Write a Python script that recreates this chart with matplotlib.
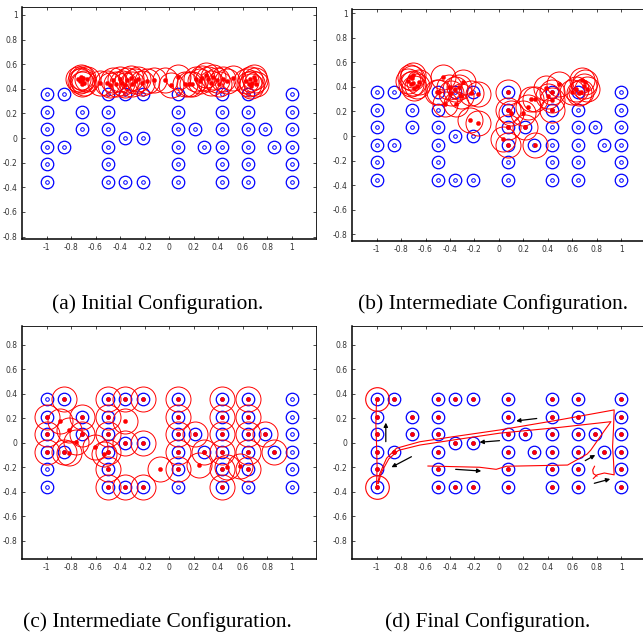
import numpy as np
import matplotlib.pyplot as plt

# target positions (blue rings), row by row
target_x = [-1, -0.857, -0.5, -0.357, -0.214, 0.071, 0.429, 0.643, 1,
            -1, -0.714, -0.5, 0.071, 0.429, 0.643, 1,
            -1, -0.714, -0.5, 0.071, 0.214, 0.429, 0.643, 0.786, 1,
            -0.357, -0.214,
            -1, -0.857, -0.5, 0.071, 0.286, 0.429, 0.643, 0.857, 1,
            -1, -0.5, 0.071, 0.429, 0.643, 1,
            -1, -0.5, -0.357, -0.214, 0.071, 0.429, 0.643, 1]
target_y = [0.357, 0.357, 0.357, 0.357, 0.357, 0.357, 0.357, 0.357, 0.357,
            0.214, 0.214, 0.214, 0.214, 0.214, 0.214, 0.214,
            0.071, 0.071, 0.071, 0.071, 0.071, 0.071, 0.071, 0.071, 0.071,
            0, 0,
            -0.071, -0.071, -0.071, -0.071, -0.071, -0.071, -0.071, -0.071, -0.071,
            -0.214, -0.214, -0.214, -0.214, -0.214, -0.214,
            -0.357, -0.357, -0.357, -0.357, -0.357, -0.357, -0.357, -0.357]

# (a) initial robot positions
robots_a_x = [-0.72, -0.71, -0.74, -0.67, -0.71, -0.69, -0.73, -0.70,
              -0.56, -0.51, -0.48, -0.46, -0.43, -0.40, -0.38, -0.36,
              -0.34, -0.31, -0.30, -0.28, -0.25, -0.22, -0.18, -0.12,
              -0.03, 0.02, 0.07, 0.13, 0.16,
              0.19, 0.22, 0.25, 0.27, 0.30, 0.32, 0.34, 0.36, 0.39, 0.41, 0.44, 0.47, 0.52,
              0.63, 0.65, 0.66, 0.68, 0.69, 0.70, 0.67, 0.71]
robots_a_y = [0.50, 0.47, 0.48, 0.48, 0.44, 0.45, 0.46, 0.49,
              0.45, 0.45, 0.43, 0.47, 0.44, 0.48, 0.45, 0.43,
              0.47, 0.49, 0.44, 0.46, 0.48, 0.45, 0.46, 0.47,
              0.47, 0.43, 0.50, 0.44, 0.44,
              0.44, 0.48, 0.46, 0.49, 0.51, 0.48, 0.45, 0.50, 0.47, 0.44, 0.48, 0.46, 0.49,
              0.46, 0.44, 0.48, 0.45, 0.50, 0.47, 0.42, 0.44]

# (b) intermediate robot positions
robots_b_x = [-0.73, -0.71, -0.70, -0.72, -0.69, -0.65, -0.74, -0.70, -0.67,
              -0.46, -0.51, -0.49, -0.44, -0.39, -0.36, -0.35, -0.33, -0.29,
              -0.23, -0.17, -0.24, -0.17, -0.41, -0.31,
              0.07, 0.07, 0.10, 0.07, 0.03, 0.07, 0.21, 0.29,
              0.20, 0.26, 0.29, 0.24, 0.38, 0.43, 0.43, 0.43, 0.49, 0.40,
              0.63, 0.65, 0.68, 0.70, 0.72, 0.67, 0.60, 0.69]
robots_b_y = [0.48, 0.47, 0.43, 0.42, 0.39, 0.44, 0.45, 0.50, 0.41,
              0.48, 0.36, 0.36, 0.26, 0.35, 0.38, 0.26, 0.40, 0.44,
              0.35, 0.34, 0.13, 0.11, 0.40, 0.33,
              0.36, 0.21, 0.19, 0.07, -0.02, -0.07, 0.07, -0.07,
              0.19, 0.30, 0.30, 0.24, 0.39, 0.36, 0.29, 0.21, 0.42, 0.33,
              0.38, 0.35, 0.46, 0.44, 0.38, 0.36, 0.36, 0.41]

# (c) intermediate robot positions
robots_c_x = [-0.857, -0.5, -0.357, -0.214, 0.071, 0.429, 0.643,
              -1, -0.714, -0.5, 0.071, 0.429, 0.643,
              -1, -0.714, -0.5, 0.071, 0.214, 0.429, 0.643, 0.786,
              -0.357, -0.214,
              -1, -0.857, -0.5, 0.071, 0.286, 0.429, 0.643, 0.857,
              -0.5, 0.071, 0.429, 0.643,
              -0.5, -0.357, -0.214, 0.429,
              -0.89, -0.816, -0.76, -0.82, -0.607, -0.528, -0.358, -0.076, 0.247, 0.477, 0.583]
robots_c_y = [0.357, 0.357, 0.357, 0.357, 0.357, 0.357, 0.357,
              0.214, 0.214, 0.214, 0.214, 0.214, 0.214,
              0.071, 0.071, 0.071, 0.071, 0.071, 0.071, 0.071, 0.071,
              0, 0,
              -0.071, -0.071, -0.071, -0.071, -0.071, -0.071, -0.071, -0.071,
              -0.214, -0.214, -0.214, -0.214,
              -0.357, -0.357, -0.357, -0.357,
              0.18, 0.11, 0.01, -0.085, -0.033, -0.09, 0.18, -0.213, -0.177, -0.2, -0.188]

# (d) final: every robot sits on its target; two robots highlighted
robots_d_x = list(target_x)
robots_d_y = list(target_y)
highlight_x = [-1, -1]
highlight_y = [0.357, -0.357]

# (d) trajectories
paths_x = [
    [-1.0, -1.005, -1.0, -0.995, -1.0],
    [-0.99, -0.973, -0.918, -0.837, -0.647, -0.376, 0.004, 0.5, 0.94,
     0.935, 0.927, 0.935, 0.94, 0.86, 0.80, 0.77],
    [-0.985, -0.96, -0.90, -0.82, -0.647, -0.376, 0.004, 0.5, 0.914,
     0.86, 0.818, 0.75, 0.72, 0.56, 0.06, -0.023, -0.159, -0.58],
    [0.78, 0.765, 0.77, 0.80],
]
paths_y = [
    [0.357, 0.15, 0.0, -0.2, -0.357],
    [-0.33, -0.25, -0.125, -0.043, 0.01, 0.051, 0.106, 0.19, 0.27,
     0.12, -0.03, -0.15, -0.26, -0.245, -0.26, -0.29],
    [-0.33, -0.24, -0.13, -0.06, -0.017, 0.024, 0.08, 0.128, 0.174,
     0.10, 0.04, -0.057, -0.09, -0.18, -0.19, -0.215, -0.198, -0.188],
    [-0.19, -0.22, -0.25, -0.27],
]

# (d) motion arrows
arrow_x0 = [-0.924, -0.715, -0.354, 0.004, 0.308, 0.704, 0.778]
arrow_y0 = [0.011, -0.112, -0.215, 0.019, 0.20, -0.144, -0.329]
arrow_x1 = [-0.924, -0.878, -0.145, -0.159, 0.14, 0.786, 0.908]
arrow_y1 = [0.166, -0.198, -0.229, 0.006, 0.18, -0.098, -0.294]

captions = ['(a) Initial Configuration.', '(b) Intermediate Configuration.',
            '(c) Intermediate Configuration.', '(d) Final Configuration.']

W, H = 643, 633
fig = plt.figure(figsize=(W / 100, H / 100), dpi=100)


def add_ax(l, t, r, b):
    return fig.add_axes([l / W, 1 - b / H, (r - l) / W, (b - t) / H])


def style(ax, ylim, yticks):
    ax.set_xlim(-1.2, 1.2)
    ax.set_ylim(*ylim)
    xt = [-1, -0.8, -0.6, -0.4, -0.2, 0, 0.2, 0.4, 0.6, 0.8, 1]
    ax.set_xticks(xt)
    ax.set_xticklabels(['%g' % v for v in xt])
    ax.set_yticks(yticks)
    ax.set_yticklabels(['%g' % v for v in yticks])
    ax.tick_params(direction='in', length=2.5, width=0.5, labelsize=5.5,
                   top=True, right=True, pad=3, labelcolor='#333333')
    for s in ['left', 'bottom']:
        ax.spines[s].set_linewidth(1.1)
    for s in ['top', 'right']:
        ax.spines[s].set_linewidth(0.6)


def draw_targets(ax):
    ax.plot(target_x, target_y, 'o', ms=9, mfc='none', mec='b', mew=0.9)
    ax.plot(target_x, target_y, 'o', ms=2.6, mfc='none', mec='b', mew=0.7)


def draw_robots(ax, xs, ys, rings=True):
    if rings:
        ax.plot(xs, ys, 'o', ms=18, mfc='none', mec='r', mew=0.7)
    ax.plot(xs, ys, 'o', ms=3, mfc='r', mec='r', mew=0.3)


yt_top = [-0.8, -0.6, -0.4, -0.2, 0, 0.2, 0.4, 0.6, 0.8, 1]
yt_bot = [-0.8, -0.6, -0.4, -0.2, 0, 0.2, 0.4, 0.6, 0.8]

ax_a = add_ax(22, 7, 316, 239)
draw_targets(ax_a)
draw_robots(ax_a, robots_a_x, robots_a_y)
style(ax_a, (-0.82, 1.065), yt_top)

ax_b = add_ax(352, 9, 646, 241)
draw_targets(ax_b)
draw_robots(ax_b, robots_b_x, robots_b_y)
style(ax_b, (-0.854, 1.034), yt_top)

ax_c = add_ax(22, 326, 316, 559)
draw_targets(ax_c)
draw_robots(ax_c, robots_c_x, robots_c_y)
style(ax_c, (-0.947, 0.955), yt_bot)

ax_d = add_ax(352, 326, 646, 559)
draw_targets(ax_d)
draw_robots(ax_d, robots_d_x, robots_d_y, rings=False)
ax_d.plot(highlight_x, highlight_y, 'o', ms=17, mfc='none', mec='r', mew=0.8)
for px, py in zip(paths_x, paths_y):
    ax_d.plot(px, py, '-', color='r', lw=0.8)
for x0, y0, x1, y1 in zip(arrow_x0, arrow_y0, arrow_x1, arrow_y1):
    ax_d.annotate('', xy=(x1, y1), xytext=(x0, y0),
                  arrowprops=dict(arrowstyle='-|>', color='k', lw=0.9,
                                  mutation_scale=6, shrinkA=0, shrinkB=0))
style(ax_d, (-0.947, 0.955), yt_bot)

cap_font = dict(family='Liberation Serif', fontsize=15.4, ha='center', va='baseline')
fig.text(158 / W, 1 - 309 / H, captions[0], **cap_font)
fig.text(493 / W, 1 - 309 / H, captions[1], **cap_font)
fig.text(157 / W, 1 - 627 / H, captions[2], **cap_font)
fig.text(488 / W, 1 - 627 / H, captions[3], **cap_font)

fig.savefig('out.png', dpi=100)
